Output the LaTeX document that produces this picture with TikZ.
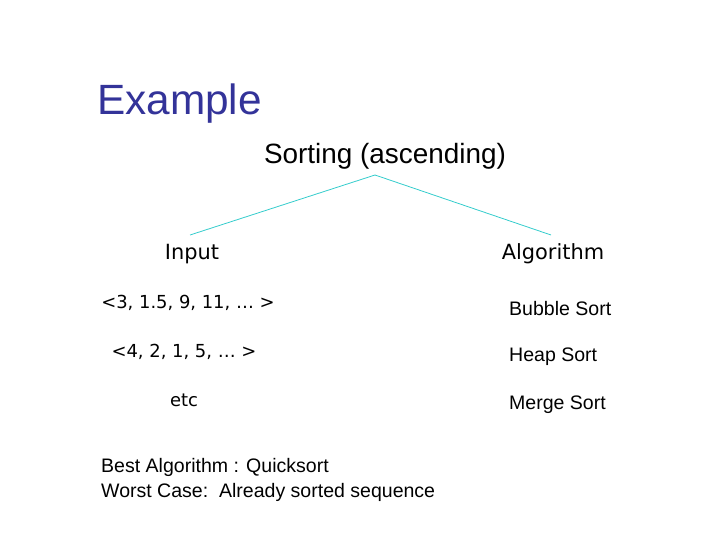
\documentclass[tikz,border=0pt]{standalone}
\usepackage{fontspec}
\setmainfont{Liberation Sans}
\newfontfamily\verd{DejaVu Sans}
\usetikzlibrary{positioning}
\definecolor{titleblue}{RGB}{51,51,153}
\definecolor{treeline}{RGB}{51,204,204}
\tikzset{
  head/.style = {font=\fontsize{28}{32}\selectfont, inner sep=0pt},
  branch/.style = {font=\verd\fontsize{21}{24}\selectfont, inner sep=0pt},
  item/.style = {font=\fontsize{19.6}{22}\selectfont, inner sep=0pt},
  entry/.style = {font=\verd\fontsize{18}{22}\selectfont, inner sep=0pt},
  link/.style = {draw=treeline, line width=0.8pt}
}
\begin{document}
\begin{tikzpicture}[x=1bp,y=-1bp]
	\useasboundingbox (0,0) rectangle (720,540);
	
	\node (title) [anchor=west, inner sep=0pt, text=titleblue, font=\fontsize{42.5}{46}\selectfont] at (97,104) {Example};
	\node (sort) [head] at (385,156) {Sorting (ascending)};
	
	\node (input) [branch] at (192,254) {Input};
	\node (algo) [branch] at (553,254) {Algorithm};
	
	\coordinate (top) at (375,175);
	\coordinate (lft) at (190,235);
	\coordinate (rgt) at (551,235);
	\draw [link] (top) -- (lft);
	\draw [link] (top) -- (rgt);
	
	\node (in1) [entry] at (188,303) {<3, 1.5, 9, 11, … >};
	\node (in2) [entry] at (184,352) {<4, 2, 1, 5, … >};
	\node (in3) [entry] at (184,400) {etc};
	
	\node (al1) [item, anchor=west] at (509,309) {Bubble Sort};
	\node (al2) [item, anchor=west] at (509,357) {Heap Sort};
	\node (al3) [item, anchor=west] at (509,405) {Merge Sort};
	
	\node (best) [item, anchor=west] at (101,467) {Best Algorithm : Quicksort};
	\node (worst) [item, anchor=west] at (101,492) {Worst Case:\ \ Already sorted sequence};
	
\end{tikzpicture}
\end{document}
